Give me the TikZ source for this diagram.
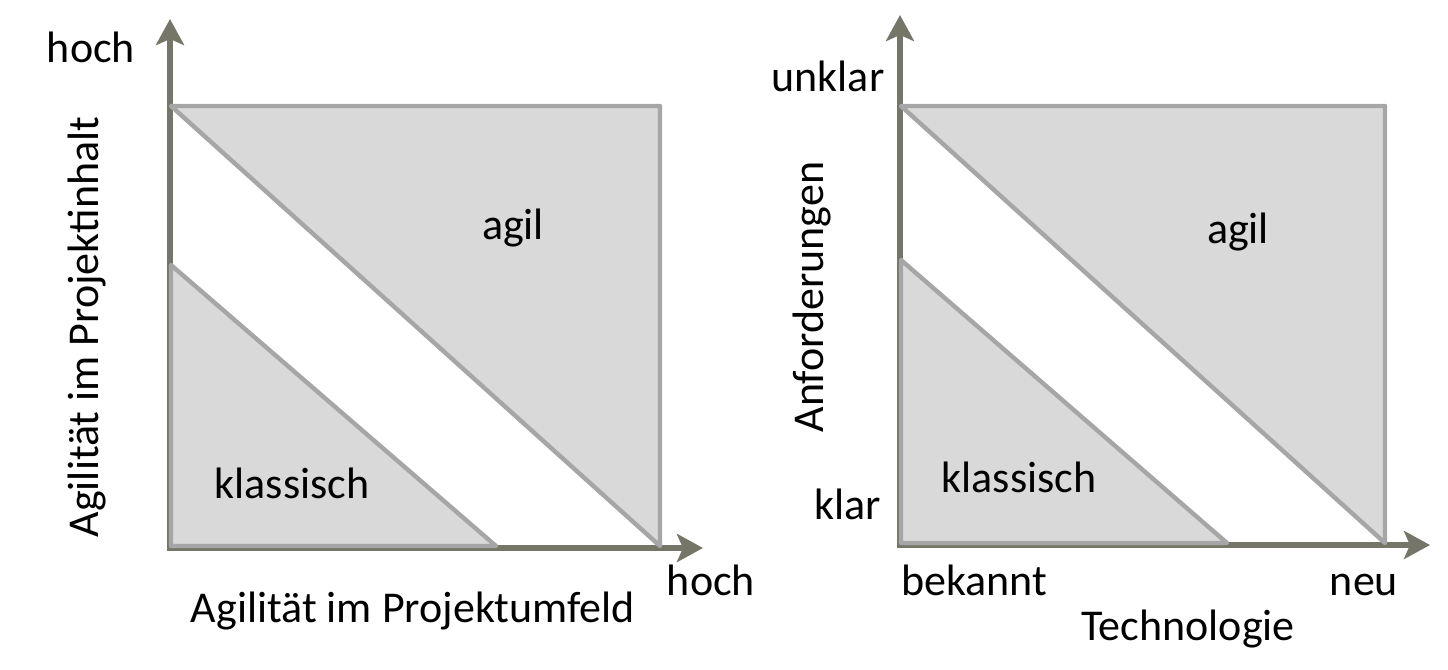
\documentclass[tikz,border=0pt]{standalone}
\usepackage{fontspec}
\setmainfont{Carlito}
\usetikzlibrary{arrows.meta}
\definecolor{axisgray}{RGB}{118,118,104}
\definecolor{edgegray}{RGB}{166,166,166}
\definecolor{fieldgray}{RGB}{217,217,217}

\begin{document}
\begin{tikzpicture}[x=0.5pt,y=-0.5pt,
        axis/.style={line width=3pt,color=axisgray,line cap=rect,-{Stealth[length=13pt,width=14pt,inset=3pt]}},
        field/.style={line width=2.2pt,draw=edgegray,fill=fieldgray,line join=round},
        lbl/.style={font=\fontsize{22pt}{26pt}\selectfont,inner sep=0pt,anchor=base}]
            \useasboundingbox (0,0) rectangle (1448,670);
            % left: Projektinhalt / Projektumfeld
            \coordinate (lo) at (170,548);
            \coordinate (ly) at (170,19);
            \coordinate (lx) at (703,548);
            \draw[axis] (lo) -- (ly);
            \draw[axis] (lo) -- (lx);
            \coordinate (ltl) at (171,106);
            \coordinate (ltr) at (660,106);
            \coordinate (lbr) at (660,546);
            \coordinate (lml) at (171,265);
            \coordinate (lbl) at (171,546);
            \coordinate (lbm) at (496,546);
            \filldraw[field] (ltl) -- (ltr) -- (lbr) -- cycle;
            \filldraw[field] (lml) -- (lbl) -- (lbm) -- cycle;
            \node[lbl] (lhochy) at (91,62) {hoch};
            \node[lbl] (lhochx) at (711,595) {hoch};
            \node[lbl] (lxname) at (413,622) {Agilität im Projektumfeld};
            \node[lbl,rotate=90] (lyname) at (98,327) {Agilität im Projektinhalt};
            \node[lbl] (lagil) at (513,239) {agil};
            \node[lbl] (lklass) at (292,498) {klassisch};
            % right: Anforderungen / Technologie
            \coordinate (ro) at (900,545);
            \coordinate (ry) at (900,15);
            \coordinate (rx) at (1430,545);
            \draw[axis] (ro) -- (ry);
            \draw[axis] (ro) -- (rx);
            \coordinate (rtl) at (901,106);
            \coordinate (rtr) at (1385,106);
            \coordinate (rbr) at (1385,543);
            \coordinate (rml) at (901,260);
            \coordinate (rbl) at (901,543);
            \coordinate (rbm) at (1227,543);
            \filldraw[field] (rtl) -- (rtr) -- (rbr) -- cycle;
            \filldraw[field] (rml) -- (rbl) -- (rbm) -- cycle;
            \node[lbl] (runklar) at (828,91) {unklar};
            \node[lbl] (rklar) at (848,519) {klar};
            \node[lbl] (rbekannt) at (974,595) {bekannt};
            \node[lbl] (rneu) at (1364,595) {neu};
            \node[lbl] (rxname) at (1188,640) {Technologie};
            \node[lbl,rotate=90] (ryname) at (823,297) {Anforderungen};
            \node[lbl] (ragil) at (1238,243) {agil};
            \node[lbl] (rklass) at (1019,492) {klassisch};
        \end{tikzpicture}
\end{document}
